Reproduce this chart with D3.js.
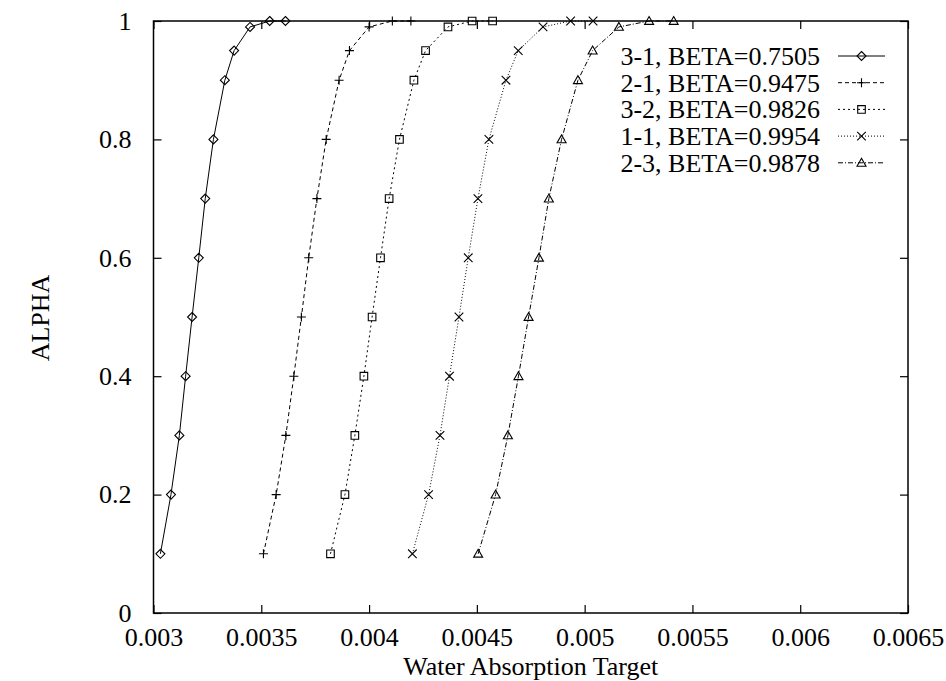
<!DOCTYPE html>
<html>
<head>
<meta charset="utf-8">
<script src="https://cdn.jsdelivr.net/npm/d3@7"></script>
<style>
  body { margin: 0; background: white; }
  text { font-family: "Liberation Serif", "Times New Roman", serif; font-size: 26px; fill: black; }
</style>
</head>
<body>
<script>
const alphaLevels = [0.1, 0.2, 0.3, 0.4, 0.5, 0.6, 0.7, 0.8, 0.9, 0.95, 0.99, 1.0, 1.0]

const seriesNames = ['3-1, BETA=0.7505', '2-1, BETA=0.9475', '3-2, BETA=0.9826', '1-1, BETA=0.9954', '2-3, BETA=0.9878']
const x31 = [0.003032, 0.003081, 0.003120, 0.003149, 0.003179, 0.003210, 0.003240, 0.003278, 0.003331, 0.003374, 0.003448, 0.003539, 0.003612]
const x21 = [0.003510, 0.003569, 0.003614, 0.003651, 0.003686, 0.003720, 0.003758, 0.003801, 0.003861, 0.003909, 0.004000, 0.004108, 0.004194]
const x32 = [0.003821, 0.003888, 0.003934, 0.003976, 0.004014, 0.004053, 0.004093, 0.004141, 0.004208, 0.004262, 0.004366, 0.004478, 0.004573]
const x11 = [0.004201, 0.004276, 0.004329, 0.004373, 0.004417, 0.004460, 0.004505, 0.004556, 0.004635, 0.004692, 0.004807, 0.004935, 0.005039]
const x23 = [0.004506, 0.004587, 0.004644, 0.004693, 0.004740, 0.004788, 0.004834, 0.004893, 0.004969, 0.005037, 0.005159, 0.005299, 0.005413]

const xTicks = [0.003, 0.0035, 0.004, 0.0045, 0.005, 0.0055, 0.006, 0.0065]
const yTicks = [0, 0.2, 0.4, 0.6, 0.8, 1]

const width = 946
const height = 681
const plotLeft = 153.5, plotRight = 908, plotTop = 21, plotBottom = 613
const serif = 'Liberation Serif, Times New Roman, serif'

const svg = d3.select('body').append('svg').attr('width', width).attr('height', height)

const xScale = d3.scaleLinear().domain([0.003, 0.0065]).range([plotLeft, plotRight])
const yScale = d3.scaleLinear().domain([0, 1]).range([plotBottom, plotTop])

// markers, gnuplot style
const markers = {
    diamond: (s) => `M0,${-s}L${s},0L0,${s}L${-s},0Z`,
    plus: (s) => `M${-s},0H${s}M0,${-s}V${s}`,
    square: (s) => `M${-s},${-s}H${s}V${s}H${-s}Z`,
    cross: (s) => `M${-s},${-s}L${s},${s}M${-s},${s}L${s},${-s}`,
    triangle: (s) => `M0,${-s}L${s},${s * 0.75}H${-s}Z`
}

const series = [
    { name: seriesNames[0], xs: x31, marker: 'diamond', size: 4.5, dash: null },
    { name: seriesNames[1], xs: x21, marker: 'plus', size: 4.5, dash: '4,3' },
    { name: seriesNames[2], xs: x32, marker: 'square', size: 3.8, dash: '2,3' },
    { name: seriesNames[3], xs: x11, marker: 'cross', size: 4.3, dash: '1,2' },
    { name: seriesNames[4], xs: x23, marker: 'triangle', size: 4.5, dash: '5,2,1,2' }
]

// axes, ticks point inward, mirrored on top/right
const xAxis = d3.axisBottom(xScale).tickValues(xTicks).tickSizeInner(-8).tickSizeOuter(0).tickPadding(14.5)
    .tickFormat((d) => String(+d.toFixed(4)))
svg.append('g').attr('transform', `translate(0,${plotBottom})`).call(xAxis)
const xTop = d3.axisTop(xScale).tickValues(xTicks).tickSizeInner(-8).tickSizeOuter(0).tickFormat('')
svg.append('g').attr('transform', `translate(0,${plotTop})`).call(xTop)

const yAxis = d3.axisLeft(yScale).tickValues(yTicks).tickSizeInner(-8).tickSizeOuter(0).tickPadding(22)
    .tickFormat((d) => String(d))
svg.append('g').attr('transform', `translate(${plotLeft},0)`).call(yAxis)
const yRight = d3.axisRight(yScale).tickValues(yTicks).tickSizeInner(-8).tickSizeOuter(0).tickFormat('')
svg.append('g').attr('transform', `translate(${plotRight},0)`).call(yRight)

svg.selectAll('.domain').remove()
svg.selectAll('.tick line').attr('stroke', 'black').attr('stroke-width', 1.2)
svg.selectAll('.tick text').style('font-family', serif).style('font-size', '26px').style('fill', 'black')

svg.append('rect').attr('x', plotLeft).attr('y', plotTop).attr('width', plotRight - plotLeft).attr('height', plotBottom - plotTop)
    .attr('fill', 'none').attr('stroke', 'black').attr('stroke-width', 1.5)

svg.append('text').attr('x', (plotLeft + plotRight) / 2).attr('y', 675).attr('text-anchor', 'middle').text('Water Absorption Target')
svg.append('text').attr('transform', 'translate(49,318) rotate(-90)').attr('text-anchor', 'middle').text('ALPHA')

const line = d3.line().x((d) => xScale(d[0])).y((d) => yScale(d[1]))

series.forEach((s, i) => {
    const pts = s.xs.map((x, j) => [x, alphaLevels[j]])
    svg.append('path').attr('d', line(pts)).attr('fill', 'none').attr('stroke', 'black').attr('stroke-width', 1)
        .attr('stroke-dasharray', s.dash)
    svg.selectAll(null).data(pts).enter().append('path')
        .attr('transform', (d) => `translate(${xScale(d[0])},${yScale(d[1])})`)
        .attr('d', markers[s.marker](s.size))
        .attr('fill', 'none').attr('stroke', 'black').attr('stroke-width', 1.1)

    // legend
    const ly = 65 + i * 26.7
    svg.append('text').attr('x', 820).attr('y', ly).attr('text-anchor', 'end').text(s.name)
    svg.append('path').attr('d', `M838,${ly - 9}H885`).attr('stroke', 'black').attr('stroke-width', 1)
        .attr('stroke-dasharray', s.dash)
    svg.append('path').attr('transform', `translate(861.5,${ly - 9})`).attr('d', markers[s.marker](s.size))
        .attr('fill', 'none').attr('stroke', 'black').attr('stroke-width', 1.1)
})
</script>
</body>
</html>
